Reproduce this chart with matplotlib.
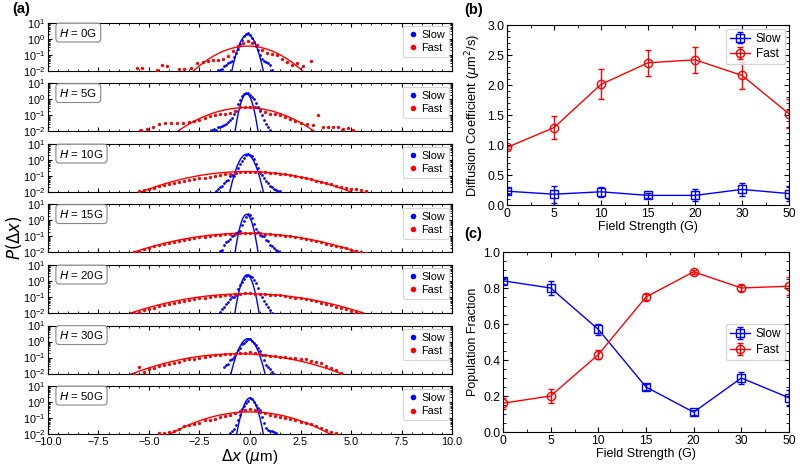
import numpy as np
import matplotlib
matplotlib.use("Agg")
import matplotlib.pyplot as plt
from matplotlib.ticker import MultipleLocator, LogLocator, NullFormatter
from matplotlib.lines import Line2D

plt.rcParams['font.family'] = ['Liberation Sans', 'DejaVu Sans']
plt.rcParams['mathtext.fontset'] = 'dejavusans'

# ---------------- data ----------------
field_labels = ['0', '5', '10', '15', '20', '30', '50']
field_names = ['0G', '5G', '10G', '15G', '20G', '30G', '50G']

# panel (b): diffusion coefficients (um^2/s)
d_slow = [0.23, 0.18, 0.22, 0.16, 0.16, 0.26, 0.19]
d_slow_err = [0.05, 0.14, 0.08, 0.04, 0.10, 0.11, 0.13]
d_fast = [0.96, 1.29, 2.01, 2.37, 2.42, 2.16, 1.52]
d_fast_err = [0.03, 0.19, 0.25, 0.22, 0.22, 0.23, 0.24]

# panel (c): population fractions
f_slow = [0.84, 0.80, 0.57, 0.25, 0.11, 0.30, 0.19]
f_slow_err = [0.015, 0.04, 0.03, 0.015, 0.015, 0.035, 0.045]
f_fast = [0.16, 0.20, 0.43, 0.75, 0.89, 0.80, 0.81]
f_fast_err = [0.03, 0.04, 0.025, 0.015, 0.01, 0.015, 0.05]

# panel (a): Gaussian fit parameters
slow_fit_peak = [1.9, 2.3, 2.3, 2.4, 2.4, 1.5, 1.8]
slow_fit_center = [-0.12, -0.17, -0.17, -0.17, -0.15, -0.10, 0.0]
slow_fit_reach = [0.78, 0.57, 0.83, 0.57, 0.60, 0.84, 0.66]   # |dx| where fit = 1e-2
fast_fit_peak = [0.36, 0.31, 0.19, 0.16, 0.16, 0.17, 0.24]
fast_fit_center = [-0.1, -0.2, -0.2, -0.2, -0.15, -0.65, 0.0]
fast_fit_reach = [2.7, 3.4, 5.2, 5.6, 5.75, 5.15, 3.95]

# panel (a): histogram points, H = 0G
slow_dx_0 = [-1.6, -1.5, -1.4, -1.3, -1.2, -1.1, -1.0, -0.9, -0.8, -0.7, -0.6, -0.5, -0.4, -0.3,
             -0.2, -0.1, 0.0, 0.1, 0.2, 0.3, 0.4, 0.5, 0.6, 0.7, 0.8, 0.9, 1.0, 1.1]
slow_p_0 = [0.011, 0.012, 0.014, 0.02, 0.025, 0.03, 0.035, 0.045, 0.07, 0.13, 0.25, 0.5, 0.9, 1.5,
            2.1, 2.3, 1.9, 1.2, 0.65, 0.35, 0.2, 0.1, 0.06, 0.045, 0.035, 0.03, 0.025, 0.012]
fast_dx_0 = [-5.6, -5.35, -4.6, -4.35, -4.1, -3.5, -3.25, -2.9, -2.6, -2.35, -2.1, -1.85, -1.6, -1.35,
             -1.1, -0.85, -0.6, -0.35, -0.1, 0.1, 0.35, 0.6, 0.85, 1.1, 1.35, 1.6, 1.85, 2.1, 2.35,
             2.6, 3.0]
fast_p_0 = [0.015, 0.015, 0.012, 0.024, 0.02, 0.013, 0.013, 0.016, 0.03, 0.036, 0.045, 0.05, 0.048, 0.06,
            0.09, 0.17, 0.35, 0.6, 0.7, 0.6, 0.4, 0.22, 0.14, 0.12, 0.1, 0.06, 0.035, 0.025, 0.03,
            0.02, 0.045]

# H = 5G
slow_dx_5 = [-1.9, -1.8, -1.7, -1.6, -1.5, -1.4, -1.3, -1.2, -1.1, -1.0, -0.9, -0.8, -0.7, -0.6, -0.5,
             -0.4, -0.3, -0.2, -0.1, 0.0, 0.1, 0.2, 0.3, 0.4, 0.5, 0.6, 0.7, 0.8, 0.9, 1.0]
slow_p_5 = [0.012, 0.015, 0.013, 0.02, 0.018, 0.022, 0.025, 0.03, 0.04, 0.05, 0.065, 0.12, 0.2, 0.5, 0.9,
            1.6, 2.2, 2.5, 2.4, 2.0, 1.5, 1.0, 0.6, 0.35, 0.2, 0.1, 0.05, 0.03, 0.02, 0.012]
fast_dx_5 = [-5.4, -5.1, -4.8, -4.5, -4.2, -3.9, -3.6, -3.3, -3.0, -2.75, -2.5, -2.25, -2.0, -1.75,
             -1.5, -1.25, -1.0, -0.75, -0.5, -0.25, 0.0, 0.25, 0.5, 0.75, 1.0, 1.25, 1.5, 1.75, 2.0,
             2.25, 2.5, 2.8, 3.1, 3.35, 3.6, 3.85, 4.1, 4.35, 4.6, 4.85, 5.1]
fast_p_5 = [0.012, 0.015, 0.02, 0.03, 0.035, 0.036, 0.036, 0.035, 0.04, 0.048, 0.055, 0.07, 0.09, 0.1,
            0.12, 0.13, 0.145, 0.2, 0.33, 0.33, 0.33, 0.33, 0.27, 0.16, 0.13, 0.12, 0.1, 0.08, 0.06,
            0.045, 0.035, 0.03, 0.025, 0.11, 0.02, 0.02, 0.019, 0.018, 0.015, 0.016, 0.013]

# H = 10G
slow_dx_10 = [-1.7, -1.6, -1.5, -1.4, -1.3, -1.2, -1.1, -1.0, -0.9, -0.8, -0.7, -0.6, -0.5, -0.4, -0.3,
              -0.2, -0.1, 0.0, 0.1, 0.2, 0.3, 0.4, 0.5, 0.6, 0.7, 0.8, 0.9, 1.0, 1.1, 1.2, 1.3, 1.4, 1.5]
slow_p_10 = [0.011, 0.015, 0.02, 0.025, 0.035, 0.048, 0.06, 0.1, 0.12, 0.1, 0.16, 0.33, 0.55, 0.86, 1.4,
             2.0, 2.4, 2.2, 1.7, 1.2, 0.6, 0.3, 0.16, 0.11, 0.08, 0.05, 0.035, 0.025, 0.02, 0.015, 0.013,
             0.012, 0.011]
fast_dx_10 = [-5.5, -5.25, -5.0, -4.75, -4.5, -4.25, -4.0, -3.75, -3.5, -3.25, -3.0, -2.75, -2.5, -2.25,
              -2.0, -1.75, -1.5, -1.25, -1.0, -0.75, -0.5, -0.25, 0.0, 0.25, 0.5, 0.75, 1.0, 1.25, 1.5,
              1.75, 2.0, 2.25, 2.5, 2.75, 3.0, 3.25, 3.5, 3.75, 4.0, 4.25, 4.5, 4.75, 5.0, 5.25, 5.5, 5.75]
fast_p_10 = [0.011, 0.013, 0.016, 0.019, 0.023, 0.026, 0.03, 0.036, 0.041, 0.048, 0.055, 0.062, 0.07, 0.08,
             0.09, 0.1, 0.11, 0.125, 0.14, 0.155, 0.17, 0.18, 0.19, 0.18, 0.18, 0.17, 0.16, 0.15, 0.14,
             0.13, 0.11, 0.095, 0.085, 0.075, 0.062, 0.052, 0.043, 0.036, 0.03, 0.025, 0.021, 0.018, 0.016,
             0.015, 0.013, 0.012]

# H = 15G
slow_dx_15 = [-1.5, -1.4, -1.3, -1.2, -1.1, -1.0, -0.9, -0.8, -0.7, -0.6, -0.5, -0.4, -0.3, -0.2, -0.1,
              0.0, 0.1, 0.2, 0.3, 0.4, 0.5, 0.6, 0.7, 0.8, 0.9, 1.0, 1.1, 1.2, 1.3, 1.4]
slow_p_15 = [0.012, 0.015, 0.03, 0.045, 0.05, 0.066, 0.1, 0.13, 0.16, 0.2, 0.21, 0.5, 0.9, 1.6, 2.4,
             2.1, 1.4, 0.6, 0.3, 0.2, 0.13, 0.11, 0.1, 0.06, 0.05, 0.03, 0.025, 0.02, 0.015, 0.012]
fast_dx_15 = [-5.75, -5.5, -5.25, -5.0, -4.75, -4.5, -4.25, -4.0, -3.75, -3.5, -3.25, -3.0, -2.75, -2.5,
              -2.25, -2.0, -1.75, -1.5, -1.25, -1.0, -0.75, -0.5, -0.25, 0.0, 0.25, 0.5, 0.75, 1.0, 1.25,
              1.5, 1.75, 2.0, 2.25, 2.5, 2.75, 3.0, 3.25, 3.5, 3.75, 4.0, 4.25, 4.5, 4.75, 5.0, 5.25,
              5.5, 5.75]
fast_p_15 = [0.011, 0.013, 0.016, 0.02, 0.024, 0.028, 0.033, 0.038, 0.045, 0.052, 0.06, 0.068, 0.078, 0.088,
             0.098, 0.108, 0.118, 0.127, 0.136, 0.145, 0.15, 0.155, 0.16, 0.165, 0.16, 0.155, 0.15, 0.14, 0.13,
             0.12, 0.11, 0.1, 0.09, 0.08, 0.07, 0.06, 0.052, 0.044, 0.036, 0.03, 0.026, 0.021, 0.018, 0.015,
             0.013, 0.011, 0.0095]

# H = 20G
slow_dx_20 = [-1.5, -1.4, -1.3, -1.2, -1.1, -1.0, -0.9, -0.8, -0.7, -0.6, -0.5, -0.4, -0.3, -0.2, -0.1,
              0.0, 0.1, 0.2, 0.3, 0.4, 0.5, 0.6, 0.7, 0.8, 0.9, 1.0, 1.1]
slow_p_20 = [0.012, 0.018, 0.024, 0.035, 0.048, 0.07, 0.1, 0.1, 0.13, 0.33, 0.55, 0.86, 1.4, 2.0, 2.4,
             2.2, 1.7, 1.2, 0.7, 0.35, 0.16, 0.1, 0.06, 0.035, 0.023, 0.015, 0.01]
fast_dx_20 = [-5.75, -5.5, -5.25, -5.0, -4.75, -4.5, -4.25, -4.0, -3.75, -3.5, -3.25, -3.0, -2.75, -2.5,
              -2.25, -2.0, -1.75, -1.5, -1.25, -1.0, -0.75, -0.5, -0.25, 0.0, 0.25, 0.5, 0.75, 1.0, 1.25,
              1.5, 1.75, 2.0, 2.25, 2.5, 2.75, 3.0, 3.25, 3.5, 3.75, 4.0, 4.25, 4.5, 4.75, 5.0, 5.25, 5.5]
fast_p_20 = [0.010, 0.012, 0.015, 0.018, 0.022, 0.026, 0.03, 0.036, 0.042, 0.048, 0.056, 0.064, 0.072, 0.082,
             0.092, 0.1, 0.11, 0.12, 0.13, 0.14, 0.145, 0.15, 0.17, 0.17, 0.165, 0.16, 0.15, 0.14, 0.135,
             0.125, 0.115, 0.1, 0.092, 0.082, 0.072, 0.062, 0.053, 0.045, 0.038, 0.031, 0.025, 0.02, 0.017,
             0.014, 0.012, 0.01]

# H = 30G
slow_dx_30 = [-1.3, -1.2, -1.1, -1.0, -0.9, -0.8, -0.7, -0.6, -0.5, -0.4, -0.3, -0.2, -0.1, 0.0, 0.1,
              0.2, 0.3, 0.4, 0.5, 0.6, 0.7, 0.8, 0.9, 1.0, 1.1, 1.2]
slow_p_30 = [0.025, 0.035, 0.04, 0.065, 0.08, 0.11, 0.2, 0.3, 0.42, 0.65, 0.86, 1.1, 1.35, 1.45, 1.1,
             0.8, 0.6, 0.4, 0.27, 0.15, 0.07, 0.035, 0.025, 0.019, 0.012, 0.009]
fast_dx_30 = [-5.75, -5.5, -5.25, -5.0, -4.75, -4.5, -4.25, -4.0, -3.75, -3.5, -3.25, -3.0, -2.75, -2.5,
              -2.25, -2.0, -1.75, -1.5, -1.25, -1.0, -0.75, -0.5, -0.25, 0.0, 0.25, 0.5, 0.75, 1.0, 1.25,
              1.5, 1.75, 2.0, 2.25, 2.5, 2.75, 3.0, 3.25, 3.5, 3.75, 4.0, 4.25, 4.5]
fast_p_30 = [0.009, 0.026, 0.013, 0.02, 0.022, 0.03, 0.036, 0.042, 0.048, 0.055, 0.065, 0.075, 0.085, 0.09,
             0.11, 0.13, 0.14, 0.15, 0.155, 0.16, 0.17, 0.2, 0.2, 0.22, 0.2, 0.17, 0.14, 0.13, 0.12,
             0.11, 0.11, 0.1, 0.09, 0.08, 0.075, 0.06, 0.05, 0.045, 0.03, 0.022, 0.016, 0.011]

# H = 50G
slow_dx_50 = [-1.0, -0.9, -0.8, -0.7, -0.6, -0.5, -0.4, -0.3, -0.2, -0.1, 0.0, 0.1, 0.2, 0.3, 0.4,
              0.5, 0.6, 0.7, 0.8, 0.9, 1.0, 1.1, 1.2, 1.3, 1.4]
slow_p_50 = [0.012, 0.015, 0.02, 0.035, 0.08, 0.16, 0.35, 0.6, 0.9, 1.2, 1.8, 1.6, 1.0, 0.65, 0.45,
             0.3, 0.12, 0.05, 0.025, 0.018, 0.016, 0.016, 0.013, 0.011, 0.009]
fast_dx_50 = [-4.5, -4.25, -4.0, -3.75, -3.5, -3.25, -3.0, -2.75, -2.5, -2.25, -2.0, -1.75, -1.5, -1.25,
              -1.0, -0.75, -0.5, -0.25, 0.0, 0.25, 0.5, 0.75, 1.0, 1.25, 1.5, 1.75, 2.0, 2.25, 2.5,
              2.75, 3.0, 3.25, 3.5, 3.75, 4.0, 4.25]
fast_p_50 = [0.011, 0.012, 0.013, 0.016, 0.02, 0.03, 0.038, 0.045, 0.05, 0.07, 0.08, 0.09, 0.11, 0.13,
             0.16, 0.2, 0.28, 0.32, 0.36, 0.3, 0.24, 0.2, 0.16, 0.13, 0.11, 0.1, 0.09, 0.075, 0.055,
             0.048, 0.04, 0.032, 0.025, 0.019, 0.013, 0.011]

slow_dx = [slow_dx_0, slow_dx_5, slow_dx_10, slow_dx_15, slow_dx_20, slow_dx_30, slow_dx_50]
slow_p = [slow_p_0, slow_p_5, slow_p_10, slow_p_15, slow_p_20, slow_p_30, slow_p_50]
fast_dx = [fast_dx_0, fast_dx_5, fast_dx_10, fast_dx_15, fast_dx_20, fast_dx_30, fast_dx_50]
fast_p = [fast_p_0, fast_p_5, fast_p_10, fast_p_15, fast_p_20, fast_p_30, fast_p_50]

BLUE = '#0000ff'
RED = '#ff0000'

# ---------------- figure ----------------
fig = plt.figure(figsize=(8.0, 4.65), dpi=100)
W, H = 800.0, 465.0


def fig_rect(x0, y0, x1, y1):
    return [x0 / W, 1 - y1 / H, (x1 - x0) / W, (y1 - y0) / H]


def gauss_curve(x, peak, center, reach):
    sigma = reach / np.sqrt(2 * np.log(peak / 0.01))
    return peak * np.exp(-(x - center) ** 2 / (2 * sigma ** 2))


xs = np.linspace(-10, 10, 2001)
top0, pitch, hgt = 23, 60.5, 48
axes_a = []
for i in range(7):
    y0 = top0 + i * pitch
    ax = fig.add_axes(fig_rect(48, y0, 452, y0 + hgt))
    axes_a.append(ax)
    ax.plot(xs, gauss_curve(xs, slow_fit_peak[i], slow_fit_center[i], slow_fit_reach[i]),
            color=BLUE, lw=1.0, zorder=2)
    ax.plot(xs, gauss_curve(xs, fast_fit_peak[i], fast_fit_center[i], fast_fit_reach[i]),
            color=RED, lw=1.0, zorder=2)
    ax.plot(slow_dx[i], slow_p[i], 'o', color=BLUE, ms=2.0, mew=0, zorder=3)
    ax.plot(fast_dx[i], fast_p[i], 'o', color=RED, ms=2.4, mew=0, zorder=3)
    ax.set_yscale('log')
    ax.set_ylim(1e-2, 1e1)
    ax.set_xlim(-10, 10)
    ax.xaxis.set_major_locator(MultipleLocator(2.5))
    ax.xaxis.set_minor_locator(MultipleLocator(0.5))
    ax.yaxis.set_major_locator(LogLocator(base=10, numticks=10))
    ax.yaxis.set_minor_locator(LogLocator(base=10, subs=np.arange(2, 10), numticks=10))
    ax.yaxis.set_minor_formatter(NullFormatter())
    ax.tick_params(which='both', direction='in', top=True, right=True, labelsize=7.8, pad=2)
    ax.tick_params(which='major', length=3, width=0.8)
    ax.tick_params(which='minor', length=1.6, width=0.6)
    if i < 6:
        ax.tick_params(labelbottom=False)
    for sp in ax.spines.values():
        sp.set_linewidth(0.8)
    ax.text(0.028, 0.80, '$H$ = ' + field_names[i], transform=ax.transAxes, fontsize=8.2,
            va='center', ha='left',
            bbox=dict(boxstyle='round,pad=0.3', fc='white', ec='#888888', lw=0.8))
    handles = [Line2D([], [], ls='none', marker='o', color=BLUE, ms=4, mew=0),
               Line2D([], [], ls='none', marker='o', color=RED, ms=4, mew=0)]
    leg = ax.legend(handles, ['Slow', 'Fast'], loc='upper right', fontsize=7.8, frameon=True,
                    handletextpad=0.3, borderpad=0.35, labelspacing=0.3, handlelength=1.0,
                    borderaxespad=0.3, fancybox=True)
    leg.get_frame().set_edgecolor('#cccccc')
    leg.get_frame().set_linewidth(0.8)

axes_a[-1].set_xlabel(r'$\Delta x$ ($\mu$m)', fontsize=11, labelpad=0)
fig.text(0.017, 0.49, r'$P(\Delta x)$', rotation=90, fontsize=12, ha='center', va='center')
fig.text(0.015, 0.98, '(a)', fontsize=10.5, fontweight='bold', ha='left', va='center')

xpos = np.arange(len(field_labels))


def style_right(ax):
    ax.set_xlim(0, 6)
    ax.set_xticks(xpos)
    ax.set_xticklabels(field_labels)
    ax.tick_params(which='both', direction='in', top=True, right=True, labelsize=8.8, pad=2)
    ax.tick_params(which='major', length=3.5, width=0.8)
    ax.tick_params(which='minor', length=2, width=0.6)
    ax.xaxis.set_minor_locator(MultipleLocator(0.5))
    for sp in ax.spines.values():
        sp.set_linewidth(0.8)
    ax.set_xlabel('Field Strength (G)', fontsize=9, labelpad=1)


leg_kw = dict(fontsize=8.5, handlelength=1.7, borderpad=0.35, labelspacing=0.3,
              handletextpad=0.5, borderaxespad=0.3, fancybox=True)

# panel (b)
axb = fig.add_axes(fig_rect(507, 25, 789, 205))
axb.errorbar(xpos, d_slow, yerr=d_slow_err, color=BLUE, marker='s', ms=5.5, mfc='none', mew=1.0,
             lw=1.0, capsize=2.5, elinewidth=1.0, label='Slow')
axb.errorbar(xpos, d_fast, yerr=d_fast_err, color=RED, marker='o', ms=6, mfc='none', mew=1.0,
             lw=1.0, capsize=2.5, elinewidth=1.0, label='Fast')
axb.set_ylim(0, 3.0)
axb.yaxis.set_major_locator(MultipleLocator(0.5))
axb.yaxis.set_minor_locator(MultipleLocator(0.1))
style_right(axb)
axb.set_ylabel(r'Diffusion Coefficient ($\mu$m$^2$/s)', fontsize=9.3, labelpad=3)
lb = axb.legend(loc='upper right', **leg_kw)
lb.get_frame().set_edgecolor('#cccccc')
fig.text(0.58, 0.978, '(b)', fontsize=10.5, fontweight='bold', ha='left', va='center')

# panel (c)
axc = fig.add_axes(fig_rect(503, 252, 789, 432))
axc.errorbar(xpos, f_slow, yerr=f_slow_err, color=BLUE, marker='s', ms=5.5, mfc='none', mew=1.0,
             lw=1.0, capsize=2.5, elinewidth=1.0, label='Slow')
axc.errorbar(xpos, f_fast, yerr=f_fast_err, color=RED, marker='o', ms=6, mfc='none', mew=1.0,
             lw=1.0, capsize=2.5, elinewidth=1.0, label='Fast')
axc.set_ylim(0, 1.0)
axc.yaxis.set_major_locator(MultipleLocator(0.2))
axc.yaxis.set_minor_locator(MultipleLocator(0.05))
style_right(axc)
axc.set_ylabel('Population Fraction', fontsize=9, labelpad=3)
lc = axc.legend(loc='center right', **leg_kw)
lc.get_frame().set_edgecolor('#cccccc')
fig.text(0.58, 0.497, '(c)', fontsize=10.5, fontweight='bold', ha='left', va='center')

fig.savefig('out.png', dpi=100)
